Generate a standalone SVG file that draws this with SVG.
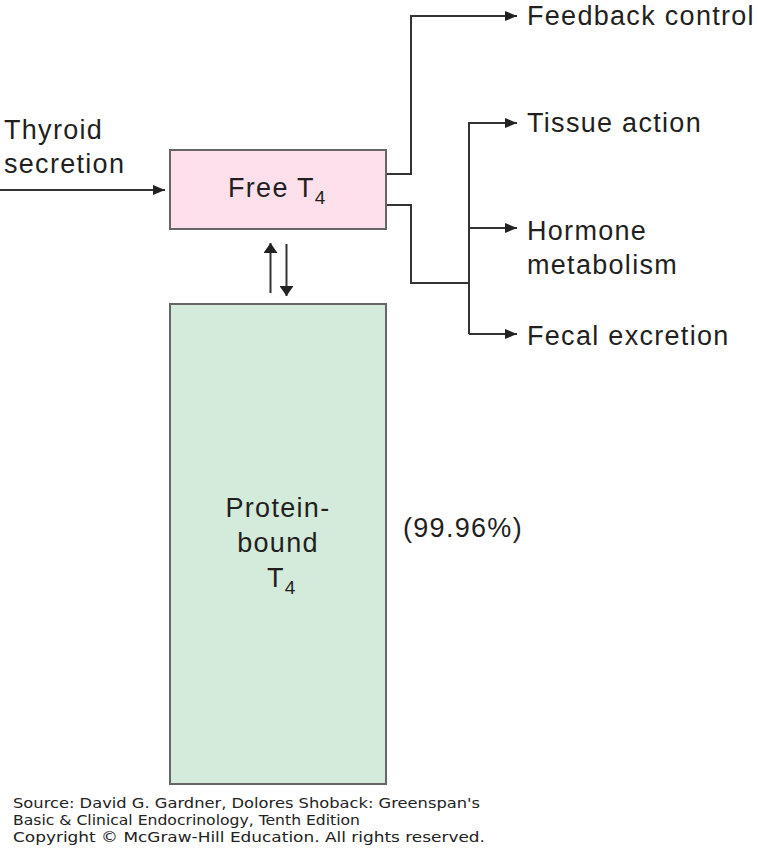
<svg xmlns="http://www.w3.org/2000/svg" width="758" height="864" viewBox="0 0 758 864">
<style>
.t{font-family:"Liberation Sans",Arial,sans-serif;font-size:27px;fill:#231f20;letter-spacing:1.3px}
.sub{font-size:19px}
.ln{fill:none;stroke:#333;stroke-width:2}
.box{stroke:#666;stroke-width:2}
.foot{font-family:"DejaVu Sans",Verdana,sans-serif;font-size:14.5px;fill:#222}
</style>
<defs>
<marker id="ah" viewBox="0 0 12 10" refX="12" refY="5" markerWidth="12" markerHeight="10" markerUnits="userSpaceOnUse" orient="auto">
<path d="M0,0 L12,5 L0,10 Z" fill="#222"/>
</marker>
<marker id="ahs" viewBox="0 0 10 14" refX="10" refY="7" markerWidth="10" markerHeight="14" markerUnits="userSpaceOnUse" orient="auto">
<path d="M0,0 L10,7 L0,14 Z" fill="#222"/>
</marker>
</defs>
<rect width="758" height="864" fill="#fff"/>
<g id="connectors">
<path class="ln" d="M0,190 H165" marker-end="url(#ah)"/>
<path class="ln" d="M270.5,293 V243" marker-end="url(#ahs)"/>
<path class="ln" d="M286.5,244 V296" marker-end="url(#ahs)"/>
<path class="ln" d="M386,174 H411 V16 H517" marker-end="url(#ah)"/>
<path class="ln" d="M386,205 H411 V283 H469"/>
<path class="ln" d="M469,334 V123 H517" marker-end="url(#ah)"/>
<path class="ln" d="M469,228 H517" marker-end="url(#ah)"/>
<path class="ln" d="M469,334 H517" marker-end="url(#ah)"/>
</g>
<g id="thyroid-secretion">
<text class="t" x="4" y="139">Thyroid</text>
<text class="t" x="4" y="173">secretion</text>
</g>
<g id="free-t4">
<rect class="box" x="170" y="150" width="216" height="79" fill="#fde0ec"/>
<text class="t" x="228" y="197">Free T<tspan class="sub" dy="7">4</tspan></text>
</g>
<g id="protein-bound-t4">
<rect class="box" x="170" y="304" width="216" height="480" fill="#d4eadb"/>
<text class="t" x="278" y="517" text-anchor="middle">Protein-</text>
<text class="t" x="278" y="552" text-anchor="middle">bound</text>
<text class="t" x="267" y="587">T<tspan class="sub" dy="7">4</tspan></text>
</g>
<g id="percent">
<text class="t" x="403" y="537">(99.96%)</text>
</g>
<g id="feedback-control">
<text class="t" x="527" y="25">Feedback control</text>
</g>
<g id="tissue-action">
<text class="t" x="527" y="132">Tissue action</text>
</g>
<g id="hormone-metabolism">
<text class="t" x="527" y="240">Hormone</text>
<text class="t" x="527" y="274">metabolism</text>
</g>
<g id="fecal-excretion">
<text class="t" x="527" y="345">Fecal excretion</text>
</g>
<g id="source">
<text class="foot" x="13" y="808" textLength="467" lengthAdjust="spacingAndGlyphs">Source: David G. Gardner, Dolores Shoback: Greenspan's</text>
<text class="foot" x="13" y="825" textLength="347" lengthAdjust="spacingAndGlyphs">Basic &amp; Clinical Endocrinology, Tenth Edition</text>
<text class="foot" x="13" y="842" textLength="472" lengthAdjust="spacingAndGlyphs">Copyright © McGraw-Hill Education. All rights reserved.</text>
</g>
</svg>
